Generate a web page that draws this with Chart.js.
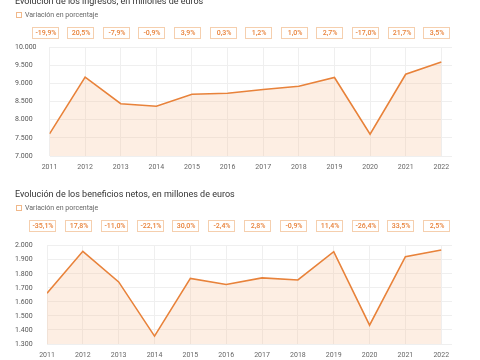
<!DOCTYPE html>
<html><head><meta charset="utf-8">
<script src="https://cdn.jsdelivr.net/npm/chart.js@4.4.1/dist/chart.umd.min.js"></script>
<style>
html,body{margin:0;padding:0;background:#fff;width:480px;height:360px;overflow:hidden}
.c{position:absolute;left:0;width:480px;height:180px}
</style></head><body>
<div class="c" style="top:0"><canvas id="c1" width="480" height="180"></canvas></div>
<div class="c" style="top:180px"><canvas id="c2" width="480" height="180"></canvas></div>
<script>
const years = [2011,2012,2013,2014,2015,2016,2017,2018,2019,2020,2021,2022];
const ingresos = [7610,9170,8440,8370,8700,8725,8830,8920,9160,7600,9250,9585];
const ingresosPct = [-19.9,20.5,-7.9,-0.9,3.9,0.3,1.2,1.0,2.7,-17.0,21.7,3.5];
const beneficios = [1662,1960,1742,1356,1767,1724,1771,1756,1957,1434,1922,1969];
const beneficiosPct = [-35.1,17.8,-11.0,-22.1,30.0,-2.4,2.8,-0.9,11.4,-26.4,33.5,2.5];
const title1 = 'Evolución de los ingresos, en millones de euros';
const title2 = 'Evolución de los beneficios netos, en millones de euros';
const legendLabel = 'Variación en porcentaje';
const ingresosAxis = [7000, 10000, 500];
const beneficiosAxis = [1300, 2000, 100];

const fmtThousands = v => String(Math.round(v)).replace(/\B(?=(\d{3})+(?!\d))/g, '.');
const fmtPct = v => v.toFixed(1).replace('.', ',') + '%';

const decor = {
  id: 'decor',
  afterDraw(chart, args, o) {
    const ctx = chart.ctx;
    ctx.save();
    ctx.fillStyle = '#333';
    ctx.font = '9px Roboto';
    ctx.textAlign = 'left';
    ctx.textBaseline = 'alphabetic';
    ctx.fillText(o.title, 15, o.titleY);
    // legend
    ctx.strokeStyle = '#f0b88a';
    ctx.lineWidth = 1;
    ctx.strokeRect(16.5, o.legendY - 2.5, 5, 5);
    ctx.fillStyle = '#666';
    ctx.font = '7px Roboto';
    ctx.textBaseline = 'middle';
    ctx.fillText(o.legend, 25, o.legendY);
    // pct boxes
    const xs = chart.scales.x;
    ctx.textAlign = 'center';
    ctx.font = '500 7px Roboto';
    o.pct.forEach((p, i) => {
      const cx = Math.round(xs.getPixelForValue(years[i]) - 4);
      ctx.strokeStyle = '#f5cfae';
      ctx.strokeRect(cx - 13.5, o.boxY - 5.5, 26, 11);
      ctx.fillStyle = '#e8823a';
      ctx.fillText(fmtPct(p), cx, o.boxY + 0.5);
    });
    ctx.restore();
  }
};

function makeChart(id, values, pct, axis, title, pad, yWidth, deco) {
  return new Chart(document.getElementById(id), {
    type: 'line',
    data: {
      datasets: [{
        data: years.map((y, i) => ({x: y, y: values[i]})),
        borderColor: '#e8823a',
        borderWidth: 1.6,
        backgroundColor: 'rgba(248,185,140,0.24)',
        fill: 'start',
        pointRadius: 0,
        tension: 0
      }]
    },
    options: {
      responsive: false,
      animation: false,
      devicePixelRatio: 1,
      layout: {padding: pad},
      plugins: {
        legend: {display: false},
        tooltip: {enabled: false},
        decor: Object.assign({title: title, legend: legendLabel, pct: pct}, deco)
      },
      scales: {
        x: {
          type: 'linear',
          min: years[0],
          max: years[years.length - 1] + 0.3,
          border: {display: false},
          grid: {color: '#efefef', drawTicks: false},
          afterFit: s => { s.height = 16; },
          ticks: {
            stepSize: 1, includeBounds: false, padding: 7,
            color: '#666', font: {family: 'Roboto', size: 7},
            callback: v => Number.isInteger(v) ? String(v) : ''
          }
        },
        y: {
          min: axis[0], max: axis[1],
          border: {display: false},
          grid: {color: '#efefef', drawTicks: false},
          afterFit: s => { s.width = yWidth; },
          ticks: {
            stepSize: axis[2], padding: 4, crossAlign: 'far',
            color: '#555', font: {family: 'Roboto', size: 7},
            callback: v => fmtThousands(v)
          }
        }
      }
    },
    plugins: [decor]
  });
}

makeChart('c1', ingresos, ingresosPct, ingresosAxis, title1,
  {top: 47, left: 15, right: 28, bottom: 8}, 34.5,
  {titleY: 4, legendY: 15, boxY: 33});
makeChart('c2', beneficios, beneficiosPct, beneficiosAxis, title2,
  {top: 65.7, left: 15, right: 28, bottom: 0}, 32,
  {titleY: 17, legendY: 28, boxY: 46});
</script>
</body></html>
